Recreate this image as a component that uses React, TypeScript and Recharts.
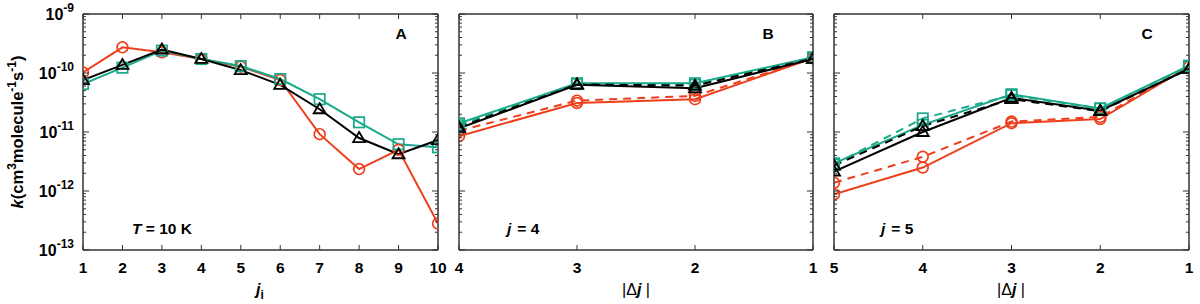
import React from "react";
import { LineChart, Line, XAxis, YAxis, ReferenceLine } from "recharts";

const FONT = "'Liberation Sans', Arial, Helvetica, sans-serif";
const RED = "#ee3f1c";
const TEAL = "#17a98a";
const BLACK = "#000000";
const AXIS = "#333333";

// ---------- Panel A data ----------
const jiValues = [1, 2, 3, 4, 5, 6, 7, 8, 9, 10];
const aRed = [1.02e-10, 2.72e-10, 2.24e-10, 1.72e-10, 1.28e-10, 7.6e-11, 9.2e-12, 2.35e-12, 5.0e-12, 2.8e-13];
const aTeal = [6.5e-11, 1.23e-10, 2.4e-10, 1.73e-10, 1.31e-10, 7.9e-11, 3.6e-11, 1.46e-11, 6.2e-12, 5.5e-12];
const aBlack = [7.6e-11, 1.37e-10, 2.5e-10, 1.73e-10, 1.12e-10, 6.3e-11, 2.43e-11, 7.9e-12, 4.2e-12, 7.3e-12];

// ---------- Panel B data ----------
const bDj = [4, 3, 2, 1];
const bRedSolid = [8.5e-12, 3.1e-11, 3.6e-11, 1.78e-10];
const bRedDashed = [1.05e-11, 3.4e-11, 4.1e-11, 1.78e-10];
const bTealSolid = [1.4e-11, 6.7e-11, 6.7e-11, 1.85e-10];
const bTealDashed = [1.3e-11, 6.5e-11, 6.3e-11, 1.8e-10];
const bBlackSolid = [1.15e-11, 6.3e-11, 5.5e-11, 1.73e-10];
const bBlackDashed = [1.2e-11, 6.4e-11, 6.1e-11, 1.75e-10];

// ---------- Panel C data ----------
const cDj = [5, 4, 3, 2, 1];
const cRedSolid = [8.8e-13, 2.5e-12, 1.41e-11, 1.66e-11, 1.28e-10];
const cRedDashed = [1.38e-12, 3.8e-12, 1.5e-11, 1.8e-11, 1.28e-10];
const cTealSolid = [2.95e-12, 1.32e-11, 4.36e-11, 2.5e-11, 1.33e-10];
const cTealDashed = [2.8e-12, 1.7e-11, 4.2e-11, 2.5e-11, 1.3e-10];
const cBlackSolid = [2.14e-12, 1.0e-11, 3.8e-11, 2.3e-11, 1.17e-10];
const cBlackDashed = [2.7e-12, 1.26e-11, 3.6e-11, 2.25e-11, 1.17e-10];

// ---------- Axis ticks ----------
const yExponents = [-13, -12, -11, -10, -9];
const yDomain = [1e-13, 1e-9];
const yTicks: number[] = [];
yExponents.forEach((e, i) => {
  yTicks.push(Math.pow(10, e));
  if (i < yExponents.length - 1) {
    for (let m = 2; m <= 9; m++) yTicks.push(m * Math.pow(10, e));
  }
});

const PLOT_TOP = 14;
const PLOT_BOTTOM = 250;
const PLOT_H = PLOT_BOTTOM - PLOT_TOP;

const makeYTick = (plotW: number, showLabel: boolean) => (props: any) => {
  const { x, y, payload, index } = props;
  const v = payload.value;
  const lg = Math.log10(v);
  const major = Math.abs(lg - Math.round(lg)) < 1e-6;
  const len = major ? 6 : 3;
  return (
    <g key={`yt-${index}`}>
      <line x1={x} x2={x + len} y1={y} y2={y} stroke={AXIS} strokeWidth={1} />
      <line x1={x + plotW} x2={x + plotW - len} y1={y} y2={y} stroke={AXIS} strokeWidth={1} />
      {showLabel && major && (
        <text x={x - 9} y={y + 6} textAnchor="end" fontFamily={FONT} fontWeight="bold" fontSize={16} fill="#000">
          10
          <tspan dy={-8} fontSize={12}>{String(Math.round(lg))}</tspan>
        </text>
      )}
    </g>
  );
};

const makeXTick = () => (props: any) => {
  const { x, y, payload, index } = props;
  return (
    <g key={`xt-${index}`}>
      <line x1={x} x2={x} y1={y} y2={y - 5} stroke={AXIS} strokeWidth={1} />
      <line x1={x} x2={x} y1={y - PLOT_H} y2={y - PLOT_H + 5} stroke={AXIS} strokeWidth={1} />
      <text x={x} y={y + 23} textAnchor="middle" fontFamily={FONT} fontWeight="bold" fontSize={15.5} fill="#000">
        {payload.value}
      </text>
    </g>
  );
};

// ---------- Markers ----------
const circleDot = (color: string) => (props: any) => {
  const { cx, cy, index } = props;
  if (cx == null || cy == null) return <g key={`c-${index}`} />;
  return <circle key={`c-${index}`} cx={cx} cy={cy} r={5.4} fill="none" stroke={color} strokeWidth={1.7} />;
};
const squareDot = (color: string) => (props: any) => {
  const { cx, cy, index } = props;
  if (cx == null || cy == null) return <g key={`s-${index}`} />;
  return <rect key={`s-${index}`} x={cx - 5.2} y={cy - 5.2} width={10.4} height={10.4} fill="none" stroke={color} strokeWidth={1.7} />;
};
const triDot = (color: string) => (props: any) => {
  const { cx, cy, index } = props;
  if (cx == null || cy == null) return <g key={`t-${index}`} />;
  return (
    <path
      key={`t-${index}`}
      d={`M${cx},${cy - 6} L${cx + 6},${cy + 4} L${cx - 6},${cy + 4} Z`}
      fill="none"
      stroke={color}
      strokeWidth={1.8}
      strokeLinejoin="miter"
    />
  );
};

const rowsA = jiValues.map((x, i) => ({ x, red: aRed[i], teal: aTeal[i], black: aBlack[i] }));
const rowsB = bDj.map((x, i) => ({
  x,
  redS: bRedSolid[i],
  redD: bRedDashed[i],
  tealS: bTealSolid[i],
  tealD: bTealDashed[i],
  blackS: bBlackSolid[i],
  blackD: bBlackDashed[i],
}));
const rowsC = cDj.map((x, i) => ({
  x,
  redS: cRedSolid[i],
  redD: cRedDashed[i],
  tealS: cTealSolid[i],
  tealD: cTealDashed[i],
  blackS: cBlackSolid[i],
  blackD: cBlackDashed[i],
}));

const DASH = "8 6";

type PanelProps = {
  left: number;
  width: number;
  plotLeft: number;
  plotRight: number;
  yAxisWidth: number;
  showYLabels: boolean;
  data: any[];
  xDomain: number[];
  xTicks: number[];
  reversed: boolean;
  rightValue: number;
  children: React.ReactNode;
};

const Panel = (p: PanelProps) => {
  const marginLeft = p.plotLeft - p.left - p.yAxisWidth;
  const marginRight = p.left + p.width - p.plotRight;
  const plotW = p.plotRight - p.plotLeft;
  return (
    <div style={{ position: "absolute", left: p.left, top: 0 }}>
      <LineChart
        width={p.width}
        height={304}
        data={p.data}
        margin={{ top: PLOT_TOP, right: marginRight, left: marginLeft, bottom: 24 }}
        style={{ overflow: "visible" }}
      >
        <XAxis
          dataKey="x"
          type="number"
          domain={p.xDomain}
          ticks={p.xTicks}
          reversed={p.reversed}
          interval={0}
          height={30}
          tickLine={false}
          tickSize={0}
          tickMargin={0}
          axisLine={{ stroke: AXIS, strokeWidth: 1.5 }}
          tick={makeXTick()}
          allowDataOverflow
        />
        <YAxis
          type="number"
          scale="log"
          domain={yDomain}
          ticks={yTicks}
          interval={0}
          width={p.yAxisWidth}
          tickLine={false}
          tickSize={0}
          tickMargin={0}
          axisLine={{ stroke: AXIS, strokeWidth: 1.5 }}
          tick={makeYTick(plotW, p.showYLabels)}
          allowDataOverflow
        />
        <ReferenceLine y={1e-9} stroke={AXIS} strokeWidth={1.5} />
        <ReferenceLine x={p.rightValue} stroke={AXIS} strokeWidth={1.5} />
        {p.children}
      </LineChart>
    </div>
  );
};

const multiLines = () => [
  <Line key="rd" dataKey="redD" stroke={RED} strokeWidth={2} strokeDasharray={DASH} dot={circleDot(RED)} isAnimationActive={false} />,
  <Line key="rs" dataKey="redS" stroke={RED} strokeWidth={2} dot={circleDot(RED)} isAnimationActive={false} />,
  <Line key="td" dataKey="tealD" stroke={TEAL} strokeWidth={2} strokeDasharray={DASH} dot={squareDot(TEAL)} isAnimationActive={false} />,
  <Line key="ts" dataKey="tealS" stroke={TEAL} strokeWidth={2} dot={squareDot(TEAL)} isAnimationActive={false} />,
  <Line key="bd" dataKey="blackD" stroke={BLACK} strokeWidth={2} strokeDasharray={DASH} dot={triDot(BLACK)} isAnimationActive={false} />,
  <Line key="bs" dataKey="blackS" stroke={BLACK} strokeWidth={2} dot={triDot(BLACK)} isAnimationActive={false} />,
];

const txt = { fontFamily: FONT, fontWeight: "bold" as const, fontSize: 15.5, fill: "#000" };

export default function App() {
  return (
    <div style={{ position: "absolute", left: 0, top: 0, width: 1200, height: 304, background: "#fff", overflow: "hidden" }}>
      <Panel
        left={0}
        width={450}
        plotLeft={83}
        plotRight={438}
        yAxisWidth={60}
        showYLabels={true}
        data={rowsA}
        xDomain={[1, 10]}
        xTicks={jiValues}
        reversed={false}
        rightValue={10}
      >
        <Line dataKey="red" stroke={RED} strokeWidth={2} dot={circleDot(RED)} isAnimationActive={false} />
        <Line dataKey="teal" stroke={TEAL} strokeWidth={2} dot={squareDot(TEAL)} isAnimationActive={false} />
        <Line dataKey="black" stroke={BLACK} strokeWidth={2} dot={triDot(BLACK)} isAnimationActive={false} />
      </Panel>
      <Panel
        left={440}
        width={380}
        plotLeft={459}
        plotRight={813}
        yAxisWidth={10}
        showYLabels={false}
        data={rowsB}
        xDomain={[1, 4]}
        xTicks={bDj}
        reversed={true}
        rightValue={1}
      >
        {multiLines()}
      </Panel>
      <Panel
        left={820}
        width={380}
        plotLeft={834}
        plotRight={1189}
        yAxisWidth={10}
        showYLabels={false}
        data={rowsC}
        xDomain={[1, 5]}
        xTicks={cDj}
        reversed={true}
        rightValue={1}
      >
        {multiLines()}
      </Panel>
      <svg width={1200} height={304} style={{ position: "absolute", left: 0, top: 0, pointerEvents: "none" }}>
        <text {...txt} x={401} y={39} textAnchor="middle">A</text>
        <text {...txt} x={768} y={39} textAnchor="middle">B</text>
        <text {...txt} x={1147} y={39} textAnchor="middle">C</text>
        <text {...txt} x={132} y={234}>
          <tspan fontStyle="italic">T</tspan>
          <tspan> = 10 K</tspan>
        </text>
        <text {...txt} x={507} y={234}>
          <tspan fontStyle="italic">j</tspan>
          <tspan dx={6}>= 4</tspan>
        </text>
        <text {...txt} x={881} y={234}>
          <tspan fontStyle="italic">j</tspan>
          <tspan dx={6}>= 5</tspan>
        </text>
        <text {...txt} x={260} y={295} textAnchor="middle" fontSize={16}>
          <tspan fontStyle="italic">j</tspan>
          <tspan dy={4} fontSize={12}>i</tspan>
        </text>
        <text x={636} y={295} textAnchor="middle" fontFamily={FONT} fontSize={16} fill="#000">
          |Δ<tspan fontStyle="italic" fontWeight="bold">j</tspan> |
        </text>
        <text x={1011} y={295} textAnchor="middle" fontFamily={FONT} fontSize={16} fill="#000">
          |Δ<tspan fontStyle="italic" fontWeight="bold">j</tspan> |
        </text>
        <text {...txt} fontSize={16.5} transform="translate(23,132) rotate(-90)" textAnchor="middle">
          <tspan fontStyle="italic">k</tspan>
          <tspan>(cm</tspan>
          <tspan dy={-7} fontSize={12}>3</tspan>
          <tspan dy={7}>molecule</tspan>
          <tspan dy={-7} fontSize={12}>-1</tspan>
          <tspan dy={7}>s</tspan>
          <tspan dy={-7} fontSize={12}>-1</tspan>
          <tspan dy={7}>)</tspan>
        </text>
      </svg>
    </div>
  );
}
